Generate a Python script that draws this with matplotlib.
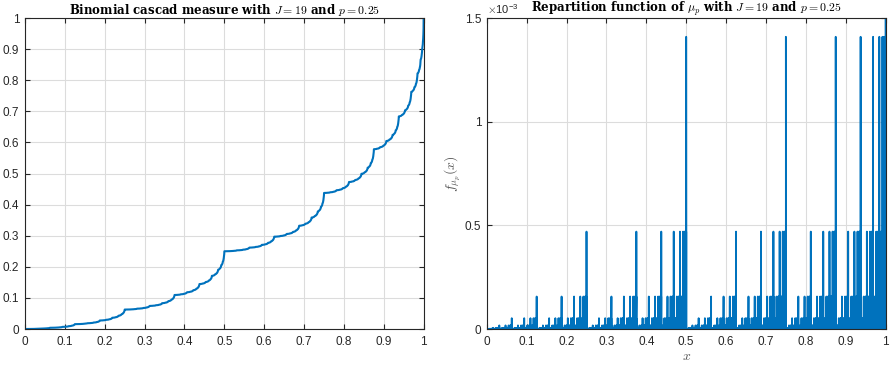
import numpy as np
import matplotlib
matplotlib.use('Agg')
import matplotlib.pyplot as plt
from matplotlib.ticker import FuncFormatter

# cascade parameters (from the titles)
P = 0.25
J = 19

x_ticks = [0, 0.1, 0.2, 0.3, 0.4, 0.5, 0.6, 0.7, 0.8, 0.9, 1]
cdf_ticks = [0, 0.1, 0.2, 0.3, 0.4, 0.5, 0.6, 0.7, 0.8, 0.9, 1]
dens_ticks = [0, 0.5e-3, 1e-3, 1.5e-3]

# binomial cascade weights on the dyadic intervals of level J
mu = np.array([1.0])
for j in range(J):
    mu = np.stack([mu*P, mu*(1-P)], axis=1).ravel()
n = 2**J
x = np.arange(1, n+1)/n
cdf = np.cumsum(mu)
x_c = np.concatenate([[0.0], x])
cdf = np.concatenate([[0.0], cdf])

plt.rcParams['mathtext.fontset'] = 'cm'
plt.rcParams['font.family'] = ['Liberation Sans', 'DejaVu Sans']
plt.rcParams['font.size'] = 8.5
plt.rcParams['xtick.direction'] = 'in'
plt.rcParams['ytick.direction'] = 'in'
plt.rcParams['xtick.top'] = True
plt.rcParams['ytick.right'] = True
plt.rcParams['xtick.major.pad'] = 5
plt.rcParams['ytick.major.pad'] = 4
plt.rcParams['axes.edgecolor'] = '#262626'
plt.rcParams['xtick.color'] = '#262626'
plt.rcParams['ytick.color'] = '#262626'

blue = '#0072BD'
fig = plt.figure(figsize=(8.9, 3.65), dpi=100)
ax1 = fig.add_axes([0.028, 0.0986, 0.448, 0.852])
ax2 = fig.add_axes([0.547, 0.0986, 0.448, 0.852])

ax1.plot(x_c, cdf, color=blue, lw=1.5)
ax1.set_xlim(0, 1)
ax1.set_ylim(0, 1)
ax1.set_xticks(x_ticks)
ax1.set_yticks(cdf_ticks)
ax1.xaxis.set_major_formatter(FuncFormatter(lambda v, p: '%g' % v))
ax1.yaxis.set_major_formatter(FuncFormatter(lambda v, p: '%g' % v))
ax1.grid(True, color='#dcdcdc', lw=0.8)
ax1.set_axisbelow(True)
ax1.set_title(r'Binomial cascad measure with $J = 19$ and $p = 0.25$',
              fontfamily='DejaVu Serif', fontweight='bold', fontsize=8.5, pad=3)

ax2.plot(x, mu, color=blue, lw=1.3)
ax2.set_xlim(0, 1)
ax2.set_ylim(0, 1.5e-3)
ax2.set_xticks(x_ticks)
ax2.set_yticks(dens_ticks)
ax2.xaxis.set_major_formatter(FuncFormatter(lambda v, p: '%g' % v))
ax2.yaxis.set_major_formatter(FuncFormatter(lambda v, p: '%g' % round(v*1e3, 6)))
ax2.grid(True, color='#dcdcdc', lw=0.8)
ax2.set_axisbelow(True)
ax2.text(0.0, 1.005, r'$\times\mathregular{10^{-3}}$', transform=ax2.transAxes, fontsize=8,
         color='#262626', va='bottom', ha='left')
ax2.set_title(r'Repartition function of $\mu_p$ with $J = 19$ and $p = 0.25$',
              fontfamily='DejaVu Serif', fontweight='bold', fontsize=8.5, pad=3)
ax2.set_xlabel(r'$x$', fontsize=10, color='#555555', labelpad=1)
ax2.set_ylabel(r'$f_{\mu_p}(x)$', fontsize=10, color='#555555', labelpad=2)

fig.savefig('out.png', dpi=100)
